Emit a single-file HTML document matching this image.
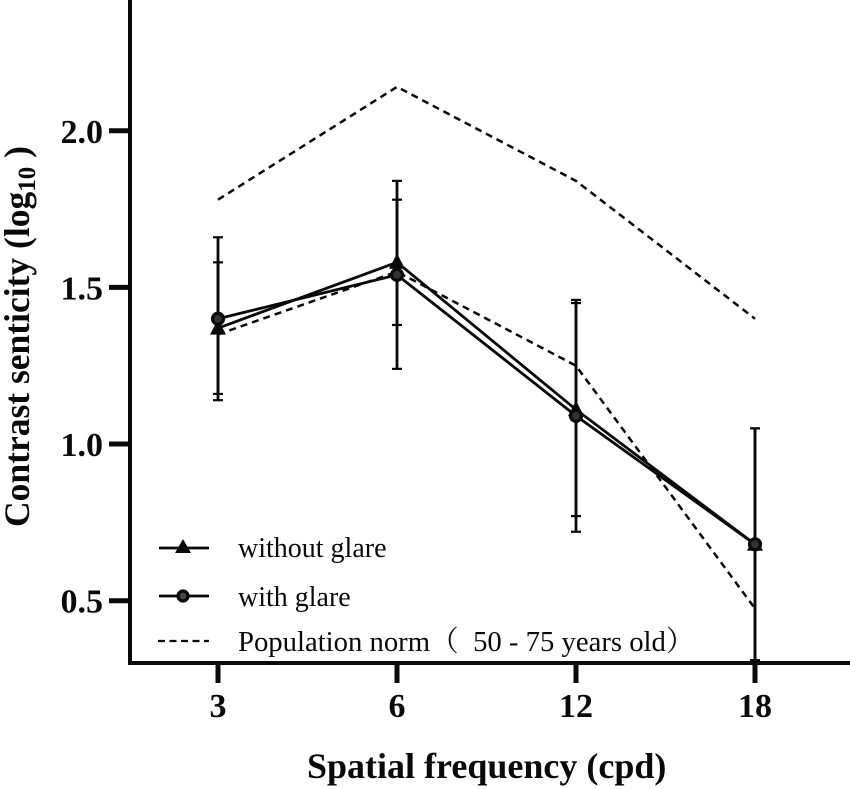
<!DOCTYPE html>
<html>
<head>
<meta charset="utf-8">
<style>
html,body{margin:0;padding:0;background:#fff;}
svg{display:block;}
text{font-family:"Liberation Serif","Noto Serif CJK SC",serif;fill:#0a0a0a;}
.tick{font-size:34px;font-weight:bold;}
.legend{font-size:28px;white-space:pre;}
</style>
</head>
<body>
<svg id="chart" width="850" height="789" viewBox="0 0 850 789" xmlns="http://www.w3.org/2000/svg">
<rect width="850" height="789" fill="#fff"/>
<g id="marks"></g>
<rect x="128" y="0" width="4" height="665" fill="#0a0a0a"/>
<rect x="128" y="661" width="722" height="4" fill="#0a0a0a"/>
<g id="ticks"></g>
<text transform="translate(29,527) rotate(-90)" font-size="35.5" font-weight="bold">Contrast senticity (log<tspan dy="6" font-size="25">10</tspan><tspan dy="-6"> )</tspan></text>
<text x="307" y="778" font-size="36" font-weight="bold">Spatial frequency (cpd)</text>
<g>
<g>
<line x1="159" y1="548" x2="209" y2="548" stroke="#0a0a0a" stroke-width="2.8"/>
<polygon points="183,539 175,553 191,553" fill="#0a0a0a"/>
<text class="legend" x="238" y="557">without glare</text>
</g>
<g>
<line x1="159" y1="596" x2="209" y2="596" stroke="#0a0a0a" stroke-width="2.8"/>
<circle cx="183" cy="596" r="5" fill="#444" stroke="#0a0a0a" stroke-width="3.2"/>
<text class="legend" x="238" y="606">with glare</text>
</g>
<g>
<line x1="158" y1="641" x2="209" y2="641" stroke="#0a0a0a" stroke-width="2.2" stroke-dasharray="7 4.5"/>
<text class="legend" x="238" y="651" style="font-size:28.7px">Population norm（  50 - 75 years old）</text>
</g>
</g>
</svg>
<script>
const categories = ["3", "6", "12", "18"];
const yTickLabels = ["0.5", "1.0", "1.5", "2.0"];
const withoutGlare = [1.37, 1.58, 1.11, 0.68];
const withoutGlareErr = [0.21, 0.20, 0.34, 0.37];
const withGlare = [1.40, 1.54, 1.09, 0.68];
const withGlareErr = [0.26, 0.30, 0.37, 0.37];
const normUpper = [1.78, 2.14, 1.84, 1.40];
const normLower = [1.35, 1.55, 1.25, 0.475];

const NS = "http://www.w3.org/2000/svg";
const INK = "#0a0a0a";
const marks = document.getElementById("marks");
const ticks = document.getElementById("ticks");
function xAxis(i) { return 218 + i * 179; }
function yAxis(v) { return 600.7 - (v - 0.5) * 313.3; }
function make(tag, parent, attrs) {
  const el = document.createElementNS(NS, tag);
  for (const k in attrs) el.setAttribute(k, attrs[k]);
  parent.appendChild(el);
  return el;
}
function linePoints(values) {
  return values.map(function (v, i) { return xAxis(i) + "," + yAxis(v); }).join(" ");
}
function drawDashed(values, name) {
  const el = make("polyline", marks, { points: linePoints(values), fill: "none", stroke: INK, "stroke-width": 2.5, "stroke-dasharray": "7 5" });
  
  
}
function drawErrors(values, errs, name) {
  values.forEach(function (v, i) {
    const x = xAxis(i), top = yAxis(v + errs[i]), bottom = yAxis(v - errs[i]);
    const g = make("g", marks, {});
    
    
    make("line", g, { x1: x, x2: x, y1: top, y2: bottom, stroke: INK, "stroke-width": 2.8 });
    make("line", g, { x1: x - 5, x2: x + 5, y1: top, y2: top, stroke: INK, "stroke-width": 2.2 });
    make("line", g, { x1: x - 5, x2: x + 5, y1: bottom, y2: bottom, stroke: INK, "stroke-width": 2.2 });
  });
}
function drawLine(values, name) {
  const el = make("polyline", marks, { points: linePoints(values), fill: "none", stroke: INK, "stroke-width": 2.8 });
  
  
}
drawDashed(normUpper, 'population-norm-upper-line');
drawDashed(normLower, 'population-norm-lower-line');
drawErrors(withoutGlare, withoutGlareErr, 'without-glare');
drawErrors(withGlare, withGlareErr, 'with-glare');
drawLine(withoutGlare, 'without-glare-line');
drawLine(withGlare, 'with-glare-line');
withoutGlare.forEach(function (v, i) {
  const x = xAxis(i), y = yAxis(v);
  const el = make("polygon", marks, { points: x + "," + (y - 9) + " " + (x - 8) + "," + (y + 6.5) + " " + (x + 8) + "," + (y + 6.5), fill: INK });
  
  
});
withGlare.forEach(function (v, i) {
  const el = make("circle", marks, { cx: xAxis(i), cy: yAxis(v), r: 5.5, fill: "#333", stroke: INK, "stroke-width": 3.2 });
  
  
});
categories.forEach(function (c, i) {
  const x = xAxis(i);
  const mark = make("line", ticks, { x1: x, x2: x, y1: 663, y2: 683, stroke: INK, "stroke-width": 5 });
  
  
  const label = make("text", ticks, { x: x, y: 717, "text-anchor": "middle", "class": "tick" });
  label.textContent = c;
  
  
});
yTickLabels.forEach(function (t) {
  const y = yAxis(parseFloat(t));
  const mark = make("line", ticks, { x1: 109, x2: 130, y1: y, y2: y, stroke: INK, "stroke-width": 5 });
  
  
  const label = make("text", ticks, { x: 103, y: y + 12, "text-anchor": "end", "class": "tick" });
  label.textContent = t;
  
  
});
</script>
</body>
</html>
